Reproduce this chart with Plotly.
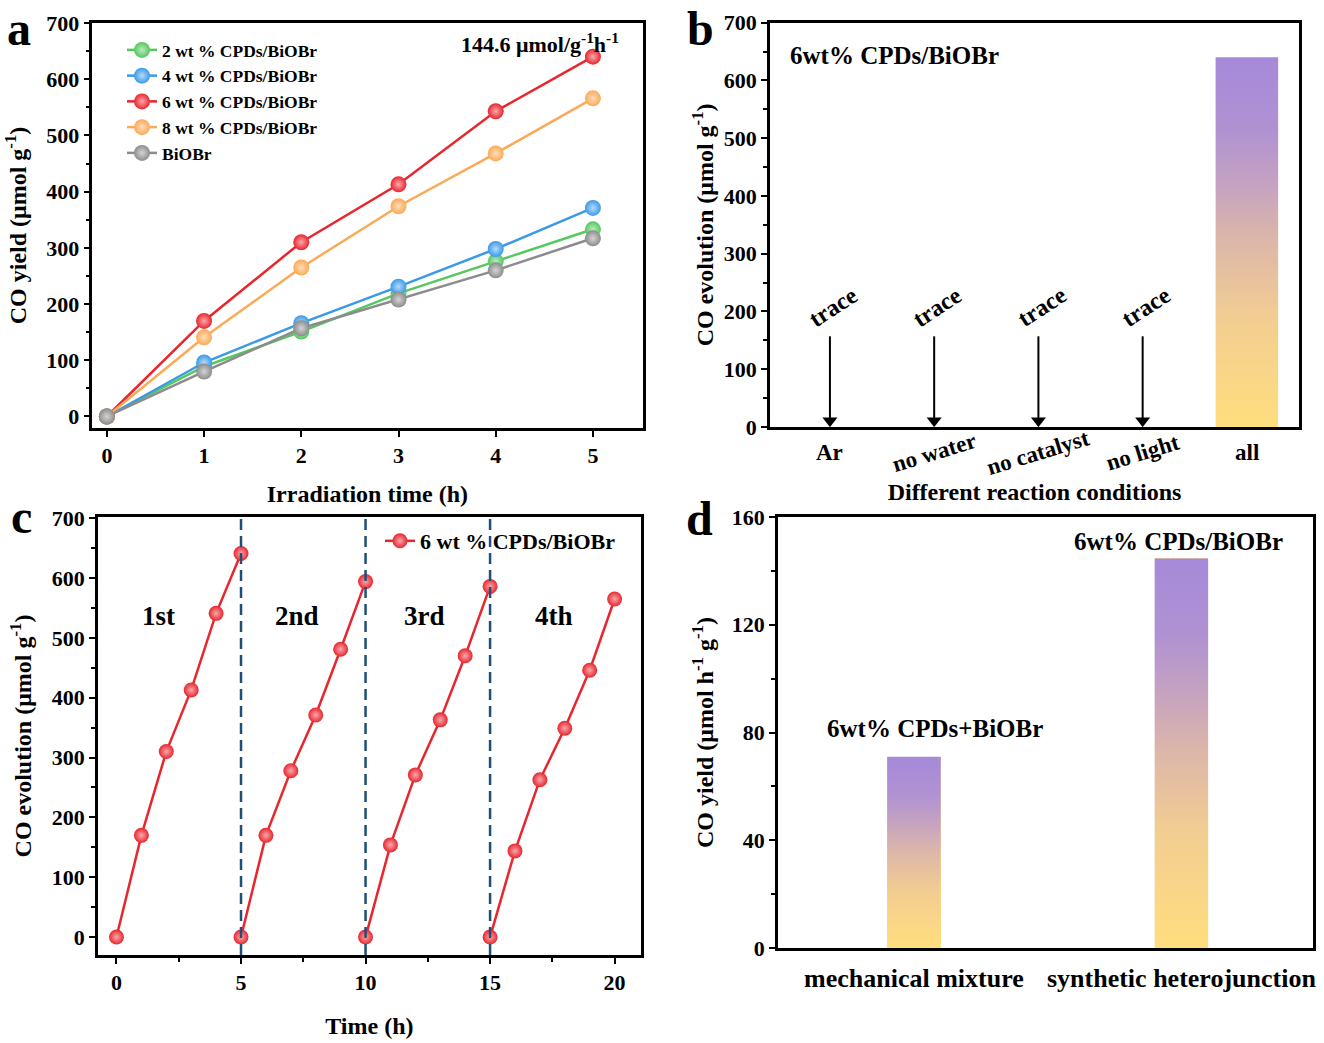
import plotly.graph_objects as go

W, H = 1324, 1043
FONT = "Liberation Serif"

# ---------------- data ----------------
# panel a
time_a = [0, 1, 2, 3, 4, 5]
names_a = ["2 wt % CPDs/BiOBr", "4 wt % CPDs/BiOBr", "6 wt % CPDs/BiOBr",
           "8 wt % CPDs/BiOBr", "BiOBr"]
yield_2wt = [0, 89, 151, 219, 276, 333]
yield_4wt = [0, 96, 166, 231, 298, 371]
yield_6wt = [0, 170, 310, 413, 543, 640]
yield_8wt = [0, 141, 265, 374, 468, 566]
yield_biobr = [0, 80, 157, 208, 260, 317]
colors_a = ["#55C85F", "#3B9AE8", "#E8262E", "#FBAA58", "#8C8C8C"]
highlight_a = ["#B8EBBE", "#B5DAF8", "#F7A9AC", "#FDDDB9", "#D4D4D4"]
rate_label = "144.6 μmol/g<sup>-1</sup>h<sup>-1</sup>"

# panel b
conditions_b = ["Ar", "no water", "no catalyst", "no light", "all"]
evolution_b = [0, 0, 0, 0, 640]
status_b = ["trace", "trace", "trace", "trace", ""]

# panel c
cycle_names = ["1st", "2nd", "3rd", "4th"]
cycle_times = [[0, 1, 2, 3, 4, 5], [5, 6, 7, 8, 9, 10],
               [10, 11, 12, 13, 14, 15], [15, 16, 17, 18, 19, 20]]
cycle_values = [[0, 170, 310, 413, 541, 641],
                [0, 170, 278, 371, 481, 594],
                [0, 154, 271, 363, 470, 586],
                [0, 144, 263, 349, 446, 565]]
cycle_breaks = [5, 10, 15]

# panel d
categories_d = ["mechanical mixture", "synthetic heterojunction"]
yield_d = [71, 144.6]
labels_d = ["6wt% CPDs+BiOBr", "6wt% CPDs/BiOBr"]

GRAD = [[0.0, "#FFDE7E"], [0.3, "#F2CD92"], [0.5, "#DDB7A8"],
        [0.65, "#C6A3C0"], [0.8, "#B092D2"], [1.0, "#A689D9"]]

fig = go.Figure()

# ---------------- panel a ----------------
series_a = [yield_2wt, yield_4wt, yield_6wt, yield_8wt, yield_biobr]
for name, ys, col, hl in zip(names_a, series_a, colors_a, highlight_a):
    fig.add_trace(go.Scatter(
        x=time_a, y=ys, name=name, mode="lines+markers",
        line=dict(color=col, width=2.5),
        marker=dict(size=16, color=col, gradient=dict(type="radial", color=hl)),
        xaxis="x", yaxis="y", legend="legend"))

# ---------------- panel b ----------------
bar_w_b = 0.6
fig.add_trace(go.Bar(x=list(range(len(conditions_b))), y=evolution_b,
                     width=bar_w_b, marker=dict(color="#FFDE7E", line=dict(width=0)),
                     xaxis="x2", yaxis="y2", showlegend=False))
for i, v in enumerate(evolution_b):
    if v > 0:
        fig.add_trace(go.Scatter(
            x=[i - bar_w_b / 2, i + bar_w_b / 2, i + bar_w_b / 2, i - bar_w_b / 2, i - bar_w_b / 2],
            y=[0, 0, v, v, 0], mode="lines", line=dict(width=0),
            fill="toself",
            fillgradient=dict(type="vertical", colorscale=GRAD, start=0, stop=v),
            xaxis="x2", yaxis="y2", showlegend=False, hoverinfo="skip"))

# "trace" arrows (pointing down to the zero level)
ARROW_TOP = 157
ax_x, ax_y = [], []
head_x, head_y = [], []
for i, (v, st) in enumerate(zip(evolution_b, status_b)):
    if st:
        ax_x += [i, i, None]
        ax_y += [ARROW_TOP, v + 12, None]
        head_x.append(i)
        head_y.append(v + 11)
fig.add_trace(go.Scatter(x=ax_x, y=ax_y, mode="lines", line=dict(color="black", width=2),
                         xaxis="x2", yaxis="y2", showlegend=False, hoverinfo="skip"))
fig.add_trace(go.Scatter(x=head_x, y=head_y, mode="markers",
                         marker=dict(symbol="triangle-down", size=13, color="black"),
                         xaxis="x2", yaxis="y2", showlegend=False, hoverinfo="skip"))

# ---------------- panel c ----------------
xc, yc = [], []
for ts, vs in zip(cycle_times, cycle_values):
    xc += ts + [None]
    yc += vs + [None]
fig.add_trace(go.Scatter(
    x=xc, y=yc, name="6 wt % CPDs/BiOBr", mode="lines+markers",
    line=dict(color="#E8262E", width=2.5),
    marker=dict(size=15, color="#E8262E", gradient=dict(type="radial", color="#F7A9AC")),
    xaxis="x3", yaxis="y3", legend="legend2", connectgaps=False))

# ---------------- panel d ----------------
bar_w_d = 0.2
fig.add_trace(go.Bar(x=list(range(len(categories_d))), y=yield_d, width=bar_w_d,
                     marker=dict(color="#FFDE7E", line=dict(width=0)),
                     xaxis="x4", yaxis="y4", showlegend=False))
for i, v in enumerate(yield_d):
    fig.add_trace(go.Scatter(
        x=[i - bar_w_d / 2, i + bar_w_d / 2, i + bar_w_d / 2, i - bar_w_d / 2, i - bar_w_d / 2],
        y=[0, 0, v, v, 0], mode="lines", line=dict(width=0),
        fill="toself",
        fillgradient=dict(type="vertical", colorscale=GRAD, start=0, stop=v),
        xaxis="x4", yaxis="y4", showlegend=False, hoverinfo="skip"))

# ---------------- axes ----------------
TICKF = dict(family=FONT, size=22, color="black", weight="bold")
TITLEF = dict(family=FONT, size=24, color="black", weight="bold")
MINOR = dict(ticks="outside", ticklen=4, tickwidth=1.5, tickcolor="black")


def ax(**kw):
    base = dict(showline=True, linecolor="black", linewidth=2.5, mirror=True,
                showgrid=False, zeroline=False, ticks="outside", ticklen=6,
                tickwidth=2, tickcolor="black", tickfont=TICKF, automargin=False)
    base.update(kw)
    return base


def px_x(p):
    return p / W


def px_y(p):
    return 1 - p / H


layout = dict(
    width=W, height=H, margin=dict(l=0, r=0, t=0, b=0, autoexpand=False),
    paper_bgcolor="white", plot_bgcolor="white",
    font=dict(family=FONT, size=20, color="black", weight="bold"),
    xaxis=ax(domain=[px_x(92.3), px_x(642.5)], anchor="y", range=[-0.15, 5.51],
             tickvals=time_a, title=dict(text="Irradiation time (h)", font=TITLEF, standoff=18)),
    yaxis=ax(domain=[px_y(428.3), px_y(22.7)], anchor="x", range=[-21, 700.5],
             dtick=100, tick0=0, minor=dict(dtick=50, tick0=0, **MINOR),
             title=dict(text="CO yield (μmol g<sup>-1</sup>)", font=TITLEF, standoff=13)),
    xaxis2=ax(domain=[px_x(770), px_x(1299)], anchor="y2", range=[-0.575, 4.5],
              showticklabels=False, ticks="",
              title=dict(text="Different reaction conditions", font=TITLEF, standoff=55)),
    yaxis2=ax(domain=[px_y(427), px_y(22.7)], anchor="x2", range=[0, 700],
              dtick=100, tick0=0, minor=dict(dtick=50, tick0=0, **MINOR),
              title=dict(text="CO evolution (μmol g<sup>-1</sup>)", font=TITLEF, standoff=4)),
    xaxis3=ax(domain=[px_x(97.8), px_x(641)], anchor="y3", range=[-0.75, 21.06],
              dtick=5, tick0=0, minor=dict(dtick=2.5, tick0=0, **MINOR),
              title=dict(text="Time (h)", font=TITLEF, standoff=24)),
    yaxis3=ax(domain=[px_y(955), px_y(517)], anchor="x3", range=[-30, 702],
              dtick=100, tick0=0, minor=dict(dtick=50, tick0=0, **MINOR),
              title=dict(text="CO evolution (μmol g<sup>-1</sup>)", font=TITLEF, standoff=14)),
    xaxis4=ax(domain=[px_x(777.8), px_x(1313)], anchor="y4", range=[-0.509, 1.492],
              tickvals=[0, 1], ticktext=categories_d, ticks="", ticklabelstandoff=5,
              tickfont=dict(family=FONT, size=26, color="black", weight="bold")),
    yaxis4=ax(domain=[px_y(948), px_y(517)], anchor="x4", range=[0, 160],
              dtick=40, tick0=0, minor=dict(dtick=20, tick0=0, **MINOR),
              title=dict(text="CO yield (μmol h<sup>-1</sup> g<sup>-1</sup>)", font=TITLEF, standoff=12)),
    legend=dict(x=px_x(122), y=px_y(32), xanchor="left", yanchor="top",
                bgcolor="rgba(0,0,0,0)", font=dict(family=FONT, size=17.5, color="black", weight="bold"),
                tracegroupgap=0, itemwidth=30),
    legend2=dict(x=px_x(380), y=px_y(520), xanchor="left", yanchor="top",
                 bgcolor="rgba(0,0,0,0)", font=dict(family=FONT, size=22, color="black", weight="bold")),
    showlegend=True,
    bargap=0,
)
fig.update_layout(**layout)

# ---------------- annotations ----------------
ann = []
# panel letters (top of text box)
for letter, cx, top in [("a", 19, 0), ("b", 700, 0), ("c", 21, 488), ("d", 699, 490)]:
    ann.append(dict(text=letter, x=px_x(cx), y=px_y(top), xref="paper", yref="paper",
                    xanchor="center", yanchor="top", showarrow=False,
                    font=dict(family=FONT, size=48, color="black", weight="bold")))
# panel a rate
ann.append(dict(text=rate_label, x=4.46, y=664, xref="x", yref="y", showarrow=False,
                xanchor="center", yanchor="middle",
                font=dict(family=FONT, size=22, color="black", weight="bold")))
# panel b
ann.append(dict(text="6wt% CPDs/BiOBr", x=-0.40, y=644, xref="x2", yref="y2", showarrow=False,
                xanchor="left", yanchor="middle",
                font=dict(family=FONT, size=25, color="black", weight="bold")))
for i, (cond, st) in enumerate(zip(conditions_b, status_b)):
    if st:
        ann.append(dict(text=st, x=i + 0.03, y=208, xref="x2", yref="y2", showarrow=False,
                        textangle=-33, xanchor="center", yanchor="middle",
                        font=dict(family=FONT, size=24, color="black", weight="bold")))
    angle = 0 if cond in ("Ar", "all") else -17
    ann.append(dict(text=cond, x=i, y=px_y(452), xref="x2", yref="paper", showarrow=False,
                    textangle=angle, xanchor="center", yanchor="middle",
                    font=dict(family=FONT, size=23, color="black", weight="bold")))
# panel c cycle labels
for name, lx in zip(cycle_names, [1.7, 7.25, 12.35, 17.55]):
    ann.append(dict(text=name, x=lx, y=537, xref="x3", yref="y3", showarrow=False,
                    xanchor="center", yanchor="middle",
                    font=dict(family=FONT, size=27, color="black", weight="bold")))
# panel d bar labels
for i, (lab, ly, dx) in enumerate(zip(labels_d, [81.6, 151], [0.08, -0.01])):
    ann.append(dict(text=lab, x=i + dx, y=ly, xref="x4", yref="y4", showarrow=False,
                    xanchor="center", yanchor="middle",
                    font=dict(family=FONT, size=25, color="black", weight="bold")))
fig.update_layout(annotations=ann)

# panel c dashed separators
for b in cycle_breaks:
    fig.add_shape(type="line", x0=b, x1=b, y0=0, y1=1, xref="x3", yref="y3 domain",
                  line=dict(color="#1F4E79", width=2.5, dash="11px,6px"))

fig.write_html("out.html", config={"displayModeBar": False},
               post_script="document.body.style.margin='0px';document.body.style.overflow='hidden';")
